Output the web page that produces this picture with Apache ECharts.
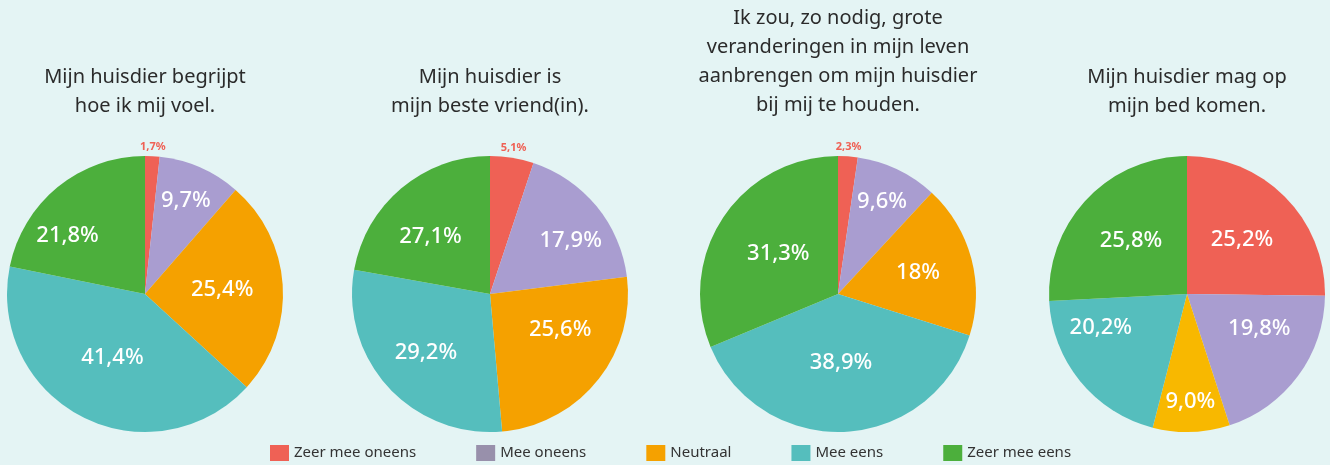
<!DOCTYPE html>
<html>
<head>
<meta charset="utf-8">
<title>Huisdier</title>
<script src="https://cdn.jsdelivr.net/npm/echarts@6/dist/echarts.min.js"></script>
<style>
    html,body{margin:0;padding:0;background:#e4f4f4;}
    #chart{width:1330px;height:465px;}
</style>
</head>
<body>
<div id="chart"></div>
<script>
// categorieen (volgorde met de klok mee, vanaf boven)
const categories = ['Zeer mee oneens', 'Mee oneens', 'Neutraal', 'Mee eens', 'Zeer mee eens'];

// titels per taart
const titles = [
    'Mijn huisdier begrijpt\nhoe ik mij voel.',
    'Mijn huisdier is\nmijn beste vriend(in).',
    'Ik zou, zo nodig, grote\nveranderingen in mijn leven\naanbrengen om mijn huisdier\nbij mij te houden.',
    'Mijn huisdier mag op\nmijn bed komen.'
];

// percentages zoals ze op de labels staan
const pct1 = [1.7, 9.7, 25.4, 41.4, 21.8];
const pct2 = [5.1, 17.9, 25.6, 29.2, 27.1];
const pct3 = [2.3, 9.6, 18, 38.9, 31.3];
const pct4 = [25.2, 19.8, 9.0, 20.2, 25.8];
// in het origineel is het laatste stuk van taart 2 kleiner getekend dan het label zegt
const drawn2 = [5.1, 17.9, 25.6, 29.2, 22.2];

const labelsPct = [pct1, pct2, pct3, pct4];
const drawnPct = [pct1, drawn2, pct3, pct4];

;(function(){
    const colors = ['#ef6155', '#a99dd0', '#f5a100', '#55bebd', '#4caf3c'];
    const legendColors = ['#ef6155', '#9890ab', '#f5a100', '#55bebd', '#4caf3c'];
    const font = '"Noto Sans", sans-serif';
    const centers = [145, 490, 838, 1187];
    const cy = 294, R = 138;
    // label afstand tot middelpunt (fractie van straal)
    const labelR = [
        [1.07, 0.74, 0.56, 0.52, 0.70],
        [1.07, 0.70, 0.57, 0.63, 0.60],
        [1.07, 0.74, 0.60, 0.50, 0.52],
        [0.56, 0.58, 0.78, 0.67, 0.56]
    ];
    // kleine draai van het label t.o.v. de middenhoek (graden)
    const labelTurn = [
        [0, 0, 0, 0, -14],
        [0, 6, -12, 0, -6],
        [0, 0, 0, 0, 0],
        [0, -11, 0, 18, 0]
    ];
    const titleTop = [63, 63, 4, 63];

    // middenhoek van elk stuk, met de klok mee vanaf boven
    const mids = drawnPct.map(vals => {
        let tot = vals.reduce((a, b) => a + b, 0), acc = 0;
        return vals.map(v => {
            let m = (acc + v / 2) / tot * 360;
            acc += v;
            return m;
        });
    });

    // "18%" staat zonder decimaal in het origineel
    const fmt = (v, s, i) => (s === 2 && i === 2 ? String(v) : v.toFixed(1).replace('.', ',')) + '%';

    let series = drawnPct.map((vals, s) => ({
        type: 'pie',
        center: [centers[s], cy],
        radius: R,
        startAngle: 90,
        clockwise: true,
        silent: true,
        animation: false,
        labelLine: {show: false},
        itemStyle: {borderWidth: 0},
        data: vals.map((v, i) => {
            let small = labelR[s][i] > 1;
            let col = colors[i];
            if (s === 3 && i === 2) col = '#f8b800';
            return {
                name: categories[i],
                value: v,
                itemStyle: {color: col},
                label: {
                    show: true,
                    position: 'inside',
                    formatter: fmt(labelsPct[s][i], s, i),
                    color: small ? '#ef6155' : '#ffffff',
                    fontSize: small ? 11 : 22,
                    fontWeight: small ? 'bold' : 500,
                    fontFamily: font
                }
            };
        }),
        labelLayout: function(p){
            let i = p.dataIndex;
            let a = (mids[s][i] + labelTurn[s][i]) * Math.PI / 180;
            let d = labelR[s][i] * R;
            return {
                x: centers[s] + d * Math.sin(a),
                y: cy - d * Math.cos(a),
                align: 'center',
                verticalAlign: 'middle'
            };
        }
    }));

    let option = {
        backgroundColor: '#e4f4f4',
        animation: false,
        title: titles.map((t, s) => ({
            text: t,
            left: centers[s],
            top: titleTop[s],
            textAlign: 'center',
            padding: 0,
            textStyle: {
                fontFamily: font,
                fontSize: 20,
                fontWeight: 'normal',
                color: '#2b2b2b',
                lineHeight: 29
            }
        })),
        legend: {
            left: 270,
            top: 445,
            padding: 0,
            itemWidth: 19,
            itemHeight: 16,
            itemGap: 60,
            icon: 'rect',
            selectedMode: false,
            textStyle: {fontFamily: font, fontSize: 15, color: '#333'},
            data: categories.map((c, i) => ({name: c, itemStyle: {color: legendColors[i]}}))
        },
        series: series
    };

    let chart = echarts.init(document.getElementById('chart'));
    chart.setOption(option);
    window.addEventListener('resize', () => chart.resize());
})();
</script>
</body>
</html>
